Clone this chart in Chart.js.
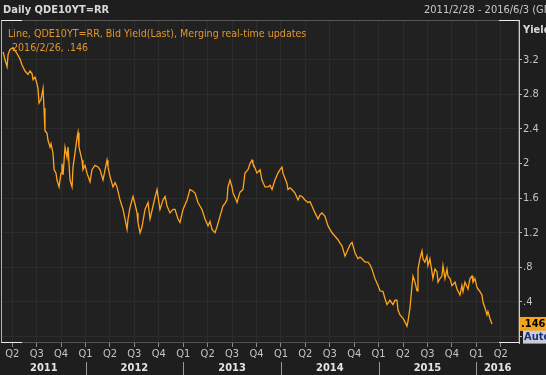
<!DOCTYPE html>
<html><head><meta charset="utf-8">
<script src="https://cdn.jsdelivr.net/npm/chart.js@4.4.1/dist/chart.umd.min.js"></script>
<style>html,body{margin:0;padding:0;background:#1e1e1e;overflow:hidden}#wrap{width:546px;height:375px;position:relative}</style>
</head><body><div id="wrap"><canvas id="c" width="546" height="375"></canvas></div>
<script>
// Decimal-year dates and bid yields (%)
const dates = [
2011.156,2011.176,2011.197,2011.207,2011.227,2011.258,2011.289,2011.330,2011.350,2011.381,
2011.411,2011.432,2011.452,2011.463,2011.483,2011.504,2011.514,2011.524,2011.544,2011.565,
2011.575,2011.585,2011.606,2011.616,2011.637,2011.647,2011.667,2011.678,2011.698,2011.708,
2011.729,2011.749,2011.759,2011.770,2011.790,2011.811,2011.821,2011.841,2011.862,2011.872,
2011.892,2011.913,2011.923,2011.933,2011.964,2011.974,2011.995,2012.015,2012.046,2012.066,
2012.097,2012.128,2012.148,2012.179,2012.200,2012.220,2012.230,2012.251,2012.281,2012.302,
2012.322,2012.353,2012.384,2012.404,2012.425,2012.435,2012.455,2012.476,2012.486,2012.507,
2012.527,2012.537,2012.558,2012.578,2012.609,2012.640,2012.660,2012.691,2012.711,2012.732,
2012.742,2012.762,2012.793,2012.814,2012.834,2012.865,2012.896,2012.916,2012.947,2012.967,
2012.998,2013.039,2013.069,2013.100,2013.121,2013.151,2013.192,2013.223,2013.254,2013.274,
2013.295,2013.325,2013.346,2013.376,2013.407,2013.428,2013.448,2013.458,2013.479,2013.499,
2013.510,2013.530,2013.551,2013.581,2013.612,2013.632,2013.663,2013.684,2013.704,2013.714,
2013.735,2013.755,2013.786,2013.806,2013.837,2013.868,2013.888,2013.909,2013.939,2013.970,
2013.991,2014.011,2014.021,2014.062,2014.072,2014.093,2014.113,2014.144,2014.175,2014.195,
2014.216,2014.246,2014.277,2014.298,2014.318,2014.349,2014.380,2014.400,2014.421,2014.451,
2014.482,2014.523,2014.554,2014.584,2014.605,2014.625,2014.656,2014.687,2014.707,2014.728,
2014.758,2014.789,2014.809,2014.830,2014.861,2014.891,2014.912,2014.932,2014.963,2014.994,
2015.014,2015.045,2015.065,2015.086,2015.116,2015.147,2015.168,2015.188,2015.198,2015.219,
2015.250,2015.270,2015.290,2015.301,2015.321,2015.342,2015.352,2015.372,2015.393,2015.403,
2015.423,2015.444,2015.454,2015.474,2015.495,2015.505,2015.525,2015.546,2015.556,2015.577,
2015.597,2015.608,2015.628,2015.648,2015.659,2015.679,2015.700,2015.710,2015.731,2015.751,
2015.782,2015.802,2015.833,2015.853,2015.864,2015.884,2015.915,2015.935,2015.956,2015.966,
2015.986,2016.007,2016.017,2016.038,2016.058,2016.068,2016.089,2016.109,2016.119,2016.140,
2016.160
];
const yields = [
3.29,3.20,3.12,3.26,3.32,3.34,3.29,3.21,3.14,3.07,
3.03,3.07,3.04,2.97,3.00,2.92,2.86,2.70,2.74,2.87,
2.64,2.38,2.35,2.27,2.19,2.23,2.12,1.93,1.89,1.81,
1.73,1.89,2.00,1.87,2.19,2.07,2.19,1.81,1.73,1.96,
2.12,2.30,2.36,2.19,2.04,1.93,1.98,1.89,1.79,1.93,
1.98,1.96,1.93,1.81,1.93,2.04,1.96,1.85,1.73,1.78,
1.73,1.58,1.47,1.36,1.24,1.36,1.49,1.58,1.62,1.53,
1.43,1.32,1.20,1.27,1.47,1.55,1.36,1.51,1.61,1.70,
1.62,1.47,1.58,1.62,1.51,1.43,1.47,1.47,1.36,1.32,
1.47,1.58,1.70,1.68,1.66,1.55,1.47,1.36,1.28,1.33,
1.24,1.20,1.27,1.39,1.51,1.54,1.58,1.73,1.81,1.73,
1.66,1.61,1.55,1.67,1.70,1.89,1.93,2.00,2.04,2.00,
1.95,1.89,1.93,1.81,1.73,1.73,1.75,1.70,1.81,1.89,
1.93,1.96,1.89,1.77,1.70,1.72,1.70,1.66,1.58,1.63,
1.62,1.58,1.55,1.56,1.51,1.43,1.36,1.41,1.43,1.39,
1.28,1.20,1.16,1.12,1.08,1.05,0.93,1.01,1.06,1.09,
0.97,0.90,0.92,0.90,0.86,0.86,0.83,0.78,0.67,0.59,
0.53,0.52,0.44,0.37,0.42,0.37,0.42,0.42,0.31,0.25,
0.21,0.17,0.12,0.18,0.33,0.59,0.70,0.63,0.53,0.78,
0.90,0.99,0.90,0.86,0.93,0.82,0.90,0.75,0.67,0.78,
0.75,0.63,0.67,0.70,0.82,0.67,0.78,0.70,0.67,0.59,
0.63,0.55,0.48,0.59,0.52,0.63,0.55,0.67,0.70,0.63,
0.67,0.57,0.55,0.52,0.48,0.40,0.33,0.25,0.29,0.21,
0.146
];
const quarterTicks = [2011.25,2011.5,2011.75,2012,2012.25,2012.5,2012.75,2013,2013.25,2013.5,2013.75,
  2014,2014.25,2014.5,2014.75,2015,2015.25,2015.5,2015.75,2016,2016.25];
const quarterLabels = ['Q2','Q3','Q4','Q1','Q2','Q3','Q4','Q1','Q2','Q3','Q4',
  'Q1','Q2','Q3','Q4','Q1','Q2','Q3','Q4','Q1','Q2'];
const yearLabels = ['2011','2012','2013','2014','2015','2016'];
const yearStarts = [2011,2012,2013,2014,2015,2016];
const yTicks = [0,0.4,0.8,1.2,1.6,2,2.4,2.8,3.2];
const yTickLabels = ['','.4','.8','1.2','1.6','2','2.4','2.8','3.2'];
const titleText = 'Daily QDE10YT=RR';
const rangeText = '2011/2/28 - 2016/6/3 (GMT)';
const legendLine1 = 'Line, QDE10YT=RR, Bid Yield(Last), Merging real-time updates';
const legendLine2 = '2016/2/26, .146';
const lastLabel = '.146';
const lastValue = 0.146;

const FONT = '"DejaVu Sans Condensed", "DejaVu Sans", sans-serif';

const decor = {
  id: 'decor',
  beforeDraw(chart) {
    const {ctx, chartArea: a} = chart;
    ctx.save();
    ctx.fillStyle = '#1e1e1e';
    ctx.fillRect(0, 0, chart.width, chart.height);
    ctx.fillStyle = '#212121';
    ctx.fillRect(a.left, a.top, a.right - a.left, a.bottom - a.top);
    ctx.restore();
  },
  afterDraw(chart) {
    const {ctx, chartArea: a, scales} = chart;
    const xs = scales.x, ys = scales.y;
    ctx.save();
    // frame
    ctx.strokeStyle = '#555';
    ctx.lineWidth = 1;
    ctx.strokeRect(a.left - 0.5, a.top + 0.5, a.right - a.left, a.bottom - a.top - 1);
    ctx.strokeStyle = '#b0b0b0';
    ctx.beginPath(); ctx.moveTo(a.left - 0.5, a.top); ctx.lineTo(a.left - 0.5, a.bottom); ctx.stroke();
    ctx.strokeStyle = '#ececec';
    ctx.beginPath();
    ctx.moveTo(a.left - 0.5, a.top + 0.5); ctx.lineTo(a.left + 20, a.top + 0.5);
    ctx.moveTo(a.right - 20, a.top + 0.5); ctx.lineTo(a.right, a.top + 0.5);
    ctx.moveTo(a.left - 0.5, a.bottom - 0.5); ctx.lineTo(a.left + 20, a.bottom - 0.5);
    ctx.moveTo(a.right - 20, a.bottom - 0.5); ctx.lineTo(a.right, a.bottom - 0.5);
    ctx.stroke();

    // header
    ctx.textBaseline = 'middle';
    ctx.font = 'bold 11px ' + FONT;
    ctx.fillStyle = '#d8d8d8';
    ctx.textAlign = 'left';
    ctx.fillText(titleText, 3, 10);
    ctx.font = '11px ' + FONT;
    ctx.fillStyle = '#c8c8c8';
    ctx.fillText(rangeText, 424, 10);
    ctx.font = 'bold 11px ' + FONT;
    ctx.fillStyle = '#d8d8d8';
    ctx.fillText('Yield', 523, 30);

    // legend text
    ctx.font = '10.6px ' + FONT;
    ctx.fillStyle = '#e0962a';
    ctx.fillText(legendLine1, 8, 34);
    ctx.fillText(legendLine2, 12, 48);

    // year labels and dividers
    ctx.font = 'bold 11px ' + FONT;
    ctx.fillStyle = '#e4e4e4';
    ctx.textAlign = 'center';
    for (let i = 0; i < yearStarts.length; i++) {
      const x0 = Math.max(xs.getPixelForValue(yearStarts[i]), a.left);
      const x1 = Math.min(xs.getPixelForValue(yearStarts[i] + 1), a.right);
      ctx.fillText(yearLabels[i], (x0 + x1) / 2, 368);
      if (yearStarts[i] > xs.min) {
        const xp = Math.round(xs.getPixelForValue(yearStarts[i])) + 0.5;
        ctx.strokeStyle = '#9a9a9a';
        ctx.beginPath(); ctx.moveTo(xp, 362); ctx.lineTo(xp, 375); ctx.stroke();
      }
    }

    // last value box
    const yv = ys.getPixelForValue(lastValue);
    ctx.fillStyle = '#f5a31a';
    ctx.fillRect(a.right + 1, yv - 7, 30, 14);
    ctx.fillStyle = '#000';
    ctx.font = 'bold 11px ' + FONT;
    ctx.textAlign = 'left';
    ctx.fillText(lastLabel, a.right + 2, yv);
    // Auto box
    const y0 = ys.getPixelForValue(0);
    ctx.fillStyle = '#c9cbd6';
    ctx.fillRect(a.right + 4, y0 - 6, 30, 13);
    ctx.fillStyle = '#1b2f7a';
    ctx.fillText('Auto', a.right + 5, y0 + 0.5);
    ctx.restore();
  }
};

new Chart(document.getElementById('c'), {
  type: 'line',
  data: { datasets: [{
    data: dates.map((d, i) => ({x: d, y: yields[i]})),
    borderColor: '#ffa41c', borderWidth: 1.3, pointRadius: 0, tension: 0, fill: false
  }]},
  options: {
    responsive: false, animation: false, devicePixelRatio: 1,
    layout: { padding: { left: 2, top: 20, right: 0, bottom: 0 } },
    plugins: { legend: { display: false }, tooltip: { enabled: false } },
    scales: {
      x: {
        type: 'linear', position: 'bottom', min: 2011.145, max: 2016.437,
        afterBuildTicks: s => { s.ticks = quarterTicks.map(v => ({value: v})); },
        afterFit: s => { s.height = 32; },
        ticks: { callback: (v, i) => quarterLabels[i], color: '#c4c4c4', font: { family: FONT, size: 11 },
                 maxRotation: 0, autoSkip: false, padding: 1 },
        grid: { color: '#2c2c2c', tickColor: '#8a8a8a', tickLength: 4 },
        border: { display: false }
      },
      y: {
        type: 'linear', position: 'right', min: -0.074, max: 3.66,
        afterBuildTicks: s => { s.ticks = yTicks.map(v => ({value: v})); },
        afterFit: s => { s.width = 27; },
        ticks: { callback: (v, i) => yTickLabels[i], color: '#c4c4c4', font: { family: FONT, size: 11 }, padding: 1 },
        grid: { color: '#2c2c2c', tickColor: '#bbbbbb', tickLength: 3 },
        border: { display: true, color: '#cfcfcf' }
      }
    }
  },
  plugins: [decor]
});
</script>
</body></html>
